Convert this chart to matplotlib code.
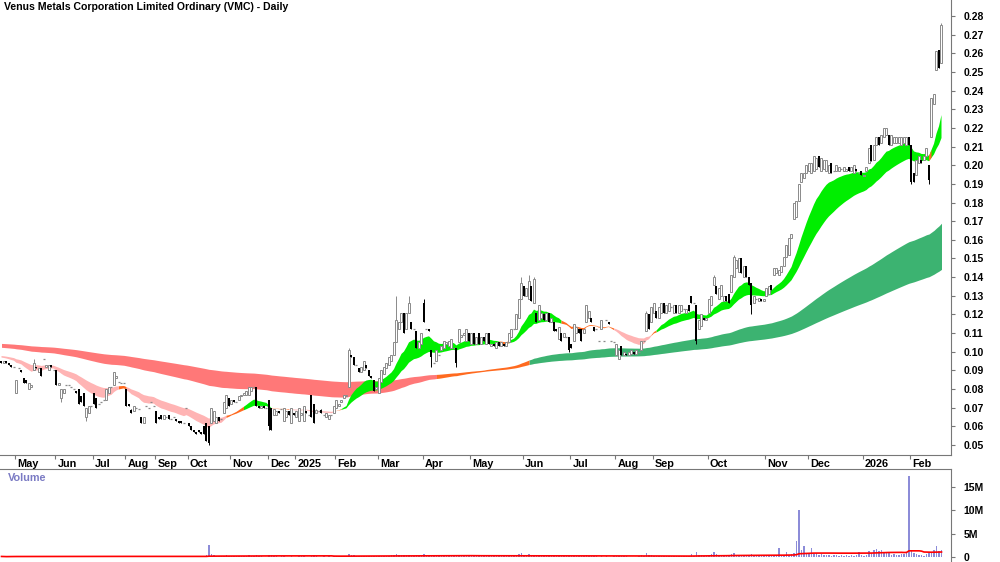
import numpy as np
import pandas as pd
import matplotlib
matplotlib.use("Agg")
import matplotlib.pyplot as plt

plt.rcParams["font.family"] = ["Liberation Sans", "DejaVu Sans"]

title = "Venus Metals Corporation Limited Ordinary (VMC) - Daily"

# closes before the visible window, only used to warm up the averages
warmup = [0.108, 0.109, 0.107, 0.108, 0.106, 0.107, 0.108, 0.106, 0.105, 0.107,
          0.106, 0.105, 0.106, 0.104, 0.105, 0.106, 0.104, 0.103, 0.105, 0.104,
          0.103, 0.104, 0.102, 0.103, 0.104, 0.102, 0.101, 0.103, 0.102, 0.101,
          0.102, 0.100, 0.101, 0.102, 0.100, 0.099, 0.101, 0.100, 0.099, 0.100,
          0.099, 0.098, 0.099, 0.100, 0.098, 0.097, 0.098, 0.099, 0.097, 0.096,
          0.097, 0.098, 0.096, 0.095, 0.097, 0.096, 0.095, 0.096, 0.097, 0.095,
          0.096, 0.097, 0.098, 0.096, 0.097, 0.098, 0.099, 0.097, 0.098, 0.099,
          0.100, 0.098, 0.099, 0.100, 0.098, 0.097, 0.098, 0.096, 0.095, 0.095]

opens = [.095, .094, .095, .094, .093, .092, .078, .091, .090, .086,
         .085, .080, .081, .090, .092, .089, .091, .096, .092, .090,
         .093, .090, .090, .082, .075, .078, .082, .082, .081, .080,
         .079, .080, .076, .078, .065, .067, .071, .078, .075, .072,
         .073, .074, .074, .078, .081, .082, .086, .084, .083, .083,
         .080, .072, .069, .068, .070, .069, .065, .062, .071, .070,
         .073, .071, .068, .065, .066, .064, .065, .066, .064, .065,
         .064, .063, .063, .062, .070, .062, .060, .058, .057, .058,
         .057, .060, .062, .060, .062, .063, .062, .065, .064, .067,
         .070, .075, .072, .074, .073, .074, .076, .077, .077, .077,
         .079, .081, .081, .071, .070, .071, .070, .074, .070, .066,
         .066, .068, .069, .063, .065, .068, .062, .067, .065, .063,
         .066, .063, .068, .066, .077, .072, .067, .068, .069, .066,
         .065, .064, .066, .067, .070, .071, .073, .075, .076, .081,
         .098, .097, .093, .091, .089, .090, .093, .090, .087, .085,
         .080, .078, .084, .088, .091, .093, .095, .098, .105, .112,
         .116, .121, .112, .121, .116, .112, .111, .102, .104, .126,
         .112, .112, .101, .094, .095, .098, .101, .102, .104, .103,
         .102, .102, .102, .105, .108, .109, .106, .110, .104, .110,
         .104, .110, .104, .108, .104, .110, .103, .104, .102, .105,
         .103, .104, .103, .105, .108, .112, .112, .118, .128, .135,
         .130, .128, .135, .126, .121, .117, .118, .120, .117, .121,
         .116, .116, .112, .107, .110, .108, .108, .108, .104, .106,
         .110, .112, .112, .110, .116, .118, .118, .113, .112, .106,
         .112, .106, .117, .116, .106, .105, .098, .096, .103, .098,
         .099, .098, .099, .100, .099, .100, .101, .106, .111, .120,
         .116, .121, .122, .118, .121, .126, .121, .122, .124, .121,
         .125, .121, .122, .123, .121, .125, .130, .126, .125, .112,
         .114, .118, .117, .121, .125, .136, .135, .128, .130, .127,
         .130, .131, .132, .140, .145, .143, .150, .140, .146, .140,
         .137, .126, .128, .127, .128, .127, .130, .131, .136, .141,
         .142, .141, .143, .146, .151, .152, .161, .171, .172, .181,
         .191, .193, .196, .197, .196, .197, .198, .205, .197, .198,
         .197, .196, .201, .197, .197, .197, .198, .197, .197, .199,
         .197, .196, .198, .196, .197, .194, .197, .201, .211, .203,
         .211, .215, .212, .215, .216, .216, .211, .212, .212, .212,
         .211, .212, .211, .215, .211, .196, .195, .201, .203, .203,
         .205, .200, .215, .233, .251, .262, .255]

closes = [.094, .095, .094, .093, .092, .092, .085, .091, .089, .083,
          .083, .083, .082, .094, .091, .091, .087, .096, .093, .093,
          .092, .090, .082, .083, .080, .080, .082, .082, .081, .080,
          .078, .072, .073, .071, .070, .071, .071, .072, .070, .072,
          .073, .074, .080, .081, .081, .089, .087, .084, .083, .083,
          .071, .071, .067, .071, .070, .069, .062, .065, .071, .070,
          .073, .071, .062, .064, .064, .066, .065, .064, .064, .065,
          .063, .062, .062, .062, .070, .060, .058, .057, .056, .057,
          .056, .056, .052, .051, .070, .068, .065, .063, .064, .073,
          .077, .071, .074, .073, .073, .076, .077, .078, .079, .081,
          .081, .081, .071, .070, .071, .070, .070, .060, .058, .069,
          .068, .067, .069, .070, .068, .066, .070, .066, .068, .070,
          .067, .071, .067, .066, .065, .062, .069, .068, .067, .066,
          .067, .066, .066, .071, .074, .072, .074, .077, .077, .101,
          .097, .093, .093, .089, .092, .095, .091, .087, .086, .079,
          .081, .086, .090, .092, .094, .097, .098, .105, .117, .116,
          .121, .110, .121, .126, .112, .112, .102, .105, .110, .116,
          .112, .111, .097, .094, .101, .098, .103, .106, .105, .106,
          .107, .102, .094, .112, .109, .110, .112, .106, .110, .104,
          .108, .104, .108, .106, .110, .104, .104, .103, .105, .103,
          .105, .103, .105, .110, .112, .112, .120, .128, .137, .130,
          .134, .138, .127, .139, .116, .125, .121, .117, .121, .116,
          .118, .111, .111, .113, .106, .110, .108, .101, .102, .115,
          .113, .110, .106, .112, .125, .122, .116, .111, .112, .106,
          .117, .106, .117, .115, .106, .105, .104, .101, .098, .100,
          .098, .100, .101, .099, .101, .100, .106, .106, .121, .112,
          .124, .126, .118, .124, .126, .121, .125, .126, .124, .125,
          .121, .125, .125, .123, .123, .122, .126, .126, .106, .117,
          .120, .117, .118, .128, .130, .140, .131, .134, .136, .130,
          .127, .126, .141, .151, .149, .150, .142, .146, .140, .136,
          .125, .130, .128, .129, .127, .128, .134, .135, .133, .145,
          .145, .144, .146, .151, .157, .161, .163, .180, .181, .190,
          .196, .196, .200, .201, .201, .205, .204, .199, .204, .203,
          .203, .200, .196, .197, .200, .199, .198, .199, .198, .197,
          .199, .200, .197, .196, .195, .195, .199, .209, .202, .211,
          .215, .211, .216, .220, .220, .211, .216, .215, .215, .215,
          .215, .215, .215, .211, .191, .191, .203, .205, .201, .205,
          .209, .192, .236, .238, .261, .252, .275]

# wick ends that reach past the candle body (bar index: price)
wick_highs = {13: .096, 139: .102, 158: .130, 163: .130, 169: .128, 208: .140,
              211: .141, 213: .140, 258: .122, 285: .141, 293: .152, 376: .276}
wick_lows = {24: .073, 34: .063, 83: .050, 107: .058, 172: .092, 182: .092,
             227: .100, 278: .104, 300: .120, 364: .190, 371: .190}

# volume in thousands of shares
volumes = [120, 80, 60, 150, 90, 70, 200, 110, 60, 180,
           140, 90, 100, 250, 120, 80, 150, 60, 110, 170,
           90, 130, 220, 160, 280, 100, 70, 60, 90, 130,
           110, 190, 150, 210, 260, 130, 90, 180, 140, 70,
           60, 80, 230, 170, 90, 300, 140, 80, 70, 60,
           210, 120, 150, 100, 90, 80, 200, 170, 60, 70,
           90, 80, 240, 110, 90, 70, 80, 60, 90, 100,
           80, 120, 150, 90, 60, 130, 170, 110, 90, 120,
           150, 300, 450, 2600, 700, 350, 200, 160, 140, 260,
           380, 300, 180, 250, 140, 160, 220, 150, 130, 350,
           180, 150, 400, 200, 120, 110, 90, 500, 420, 150,
           120, 100, 140, 210, 90, 110, 230, 100, 80, 190,
           120, 200, 90, 110, 300, 350, 150, 100, 90, 120,
           100, 130, 90, 200, 250, 180, 220, 280, 300, 650,
           400, 350, 200, 180, 250, 300, 200, 150, 180, 320,
           200, 280, 260, 210, 300, 250, 350, 420, 600, 400,
           380, 450, 350, 500, 300, 220, 400, 250, 260, 550,
           280, 200, 350, 300, 250, 220, 180, 200, 260, 150,
           180, 160, 300, 260, 200, 180, 250, 220, 180, 200,
           190, 170, 210, 160, 230, 280, 150, 140, 130, 170,
           150, 160, 200, 300, 250, 350, 450, 700, 800, 500,
           400, 600, 450, 350, 500, 300, 250, 200, 220, 300,
           180, 250, 200, 160, 150, 220, 140, 260, 200, 180,
           160, 200, 220, 250, 350, 280, 160, 150, 120, 100,
           180, 90, 130, 110, 100, 120, 200, 250, 300, 180,
           120, 100, 90, 110, 80, 120, 350, 180, 800, 450,
           400, 300, 250, 200, 280, 220, 180, 160, 200, 150,
           180, 160, 140, 130, 150, 170, 600, 300, 1000, 450,
           350, 280, 220, 400, 550, 1000, 600, 400, 350, 300,
           280, 300, 700, 900, 500, 450, 400, 350, 300, 500,
           700, 350, 250, 200, 180, 220, 300, 280, 250, 400,
           350, 2000, 300, 400, 1100, 450, 600, 800, 3500, 10000,
           1500, 2300, 900, 700, 2000, 600, 800, 500, 600, 400,
           450, 350, 300, 400, 500, 300, 350, 250, 400, 300,
           350, 300, 450, 1100, 400, 300, 350, 1300, 800, 1500,
           1700, 1200, 1600, 1000, 800, 1100, 500, 600, 400, 500,
           700, 600, 900, 17500, 1200, 800, 600, 400, 500, 300,
           600, 1000, 900, 1500, 2300, 1200, 1400]

month_labels = ["May", "Jun", "Jul", "Aug", "Sep", "Oct", "Nov", "Dec", "2025",
                "Feb", "Mar", "Apr", "May", "Jun", "Jul", "Aug", "Sep", "Oct",
                "Nov", "Dec", "2026", "Feb"]
month_start = [6, 22, 37, 50, 62, 75, 92, 107, 118, 134, 151, 169, 188, 209,
               228, 246, 261, 283, 306, 323, 345, 364]

# average lengths, fitted to how slowly the two ribbons follow the price
short_spans = [17, 20, 23, 27, 31, 36]
long_spans = [150, 170, 190, 215, 245, 280]

o = np.array(opens)
c = np.array(closes)
x = np.arange(len(c))
hi = np.maximum(o, c)
lo = np.minimum(o, c)
for k, v in wick_highs.items():
    hi[k] = v
for k, v in wick_lows.items():
    lo[k] = v

allc = pd.Series(warmup + closes)
nw = len(warmup)


def emas(spans):
    return np.array([allc.ewm(span=s, adjust=False).mean().values[nw:] for s in spans])


def draw_band(ax, e, cols, z):
    d = np.diff(e, axis=0)
    up = np.all(d < 0, axis=0)
    down = np.all(d > 0, axis=0)
    state = np.where(up, 0, np.where(down, 1, 2))
    top = e.max(axis=0)
    bot = e.min(axis=0)
    for s in range(3):
        m = state == s
        m2 = m.copy()
        m2[1:] |= m[:-1]
        ax.fill_between(x, bot, top, where=m2, color=cols[s], lw=0, zorder=z)


fig = plt.figure(figsize=(10, 5.62), dpi=100)
ax = fig.add_axes([0, 107 / 562, 0.951, 455 / 562])
axv = fig.add_axes([0, 0, 0.951, 93 / 562], sharex=ax)

draw_band(ax, emas(long_spans), ["#3cb371", "#ff7878", "#ff6a1f"], 1)
draw_band(ax, emas(short_spans), ["#00ee00", "#ffb4b4", "#ff6a1f"], 2)

# candles
w = 0.8
upc = c >= o
for i in x:
    col = "#8a8a8a" if upc[i] else "black"
    ax.vlines(i, lo[i], hi[i], color=col, lw=0.7, zorder=3)
    if abs(c[i] - o[i]) < 1e-9:
        ax.hlines(c[i], i - w / 2, i + w / 2, color=col, lw=0.9, zorder=4)
    elif upc[i]:
        ax.bar(i, c[i] - o[i], bottom=o[i], width=w, facecolor="white",
               edgecolor=col, lw=0.7, zorder=4)
    else:
        ax.bar(i, o[i] - c[i], bottom=c[i], width=w, color="black", lw=0, zorder=4)

ax.set_xlim(-0.6, 379.8)
ax.set_ylim(0.0446, 0.2886)
ax.yaxis.tick_right()
ax.set_yticks(np.arange(0.05, 0.2801, 0.01))
ax.set_yticklabels([f"{v:.2f}" for v in np.arange(0.05, 0.2801, 0.01)],
                   fontsize=7.5, fontweight="bold")
ax.tick_params(axis="y", direction="out", length=3, color="#777777", pad=6)
ax.set_xticks([m - 0.5 for m in month_start])
ax.set_xticklabels([])
ax.tick_params(axis="x", direction="out", length=3, color="#777777")
for m, lab in zip(month_start, month_labels):
    ax.annotate(lab, (m - 0.5, 0), xycoords=("data", "axes fraction"),
                xytext=(1.5, -3), textcoords="offset points", ha="left", va="top",
                fontsize=7.8, fontweight="bold")
for s in ["left", "top"]:
    ax.spines[s].set_visible(False)
for s in ["right", "bottom"]:
    ax.spines[s].set_color("#777777")

ax.text(0.004, 0.995, title, transform=ax.transAxes, ha="left", va="top",
        fontsize=7.6, fontweight="bold")

# volume pane
vol = np.array(volumes) * 1000.0
axv.bar(x, vol, width=0.6, color="#8c8cd8", lw=0, zorder=2)
vma = pd.Series(vol).rolling(50, min_periods=1).mean()
axv.plot(x, vma, color="red", lw=1.2, zorder=3)
axv.set_ylim(-1.07e6, 18.9e6)
axv.yaxis.tick_right()
axv.set_yticks([0, 5e6, 10e6, 15e6])
axv.set_yticklabels(["0", "5M", "10M", "15M"], fontsize=7.5, fontweight="bold")
axv.tick_params(axis="y", direction="out", length=3, color="#777777", pad=6)
axv.tick_params(axis="x", bottom=False, labelbottom=False)
for s in ["left", "bottom"]:
    axv.spines[s].set_visible(False)
for s in ["right", "top"]:
    axv.spines[s].set_color("#777777")
axv.text(0.008, 0.9, "Volume", transform=axv.transAxes, ha="left", va="center",
         fontsize=7.8, fontweight="bold", color="#7b7bc4")

fig.savefig("out.png", dpi=100)
